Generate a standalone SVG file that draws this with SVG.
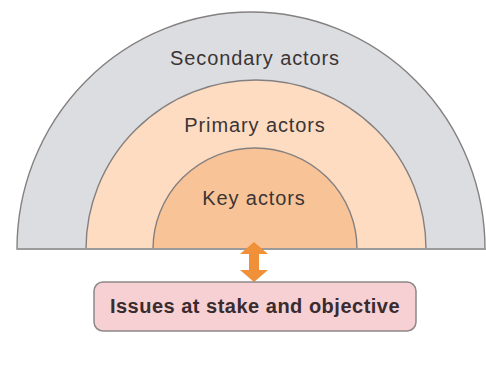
<svg xmlns="http://www.w3.org/2000/svg" width="486" height="378" viewBox="0 0 486 378">
  <style>
    .ring { stroke: #858080; stroke-width: 1.4; }
    .lbl { font-family: "Liberation Sans", Arial, sans-serif; font-size: 20px; fill: #3b3535; text-anchor: middle; letter-spacing: 0.9px; }
    .box-lbl { font-family: "Liberation Sans", Arial, sans-serif; font-size: 20px; font-weight: bold; fill: #3a2b2e; text-anchor: middle; letter-spacing: 0.5px; }
  </style>
  <rect width="486" height="378" fill="#ffffff"/>

  <!-- half rings, outermost first -->
  <g id="secondary-actors">
    <path class="ring" d="M17,249 A234,237 0 0 1 485,249 Z" fill="#dcdde1"/>
    <text class="lbl" x="255" y="65">Secondary actors</text>
  </g>
  <g id="primary-actors">
    <path class="ring" d="M86,249 A170,169 0 0 1 426,249 Z" fill="#fddcc2"/>
    <text class="lbl" x="255" y="132">Primary actors</text>
  </g>
  <g id="key-actors">
    <path class="ring" d="M153,249 A102,101 0 0 1 357,249 Z" fill="#f8c497"/>
    <text class="lbl" x="254" y="205">Key actors</text>
  </g>

  <!-- ground line under the rings -->
  <line x1="17" y1="249" x2="486" y2="249" stroke="#9c9a9a" stroke-width="2"/>

  <g id="connectors">
    <path d="M254,242 L268,254 L259,254 L259,270 L268,270 L254,282 L240,270 L249,270 L249,254 L240,254 Z" fill="#f0913a"/>
  </g>

  <g id="issues">
    <rect x="94" y="282" width="322" height="49" rx="9" fill="#f6d0d3" stroke="#8f8888" stroke-width="1.5"/>
    <text class="box-lbl" x="255" y="313">Issues at stake and objective</text>
  </g>
</svg>
